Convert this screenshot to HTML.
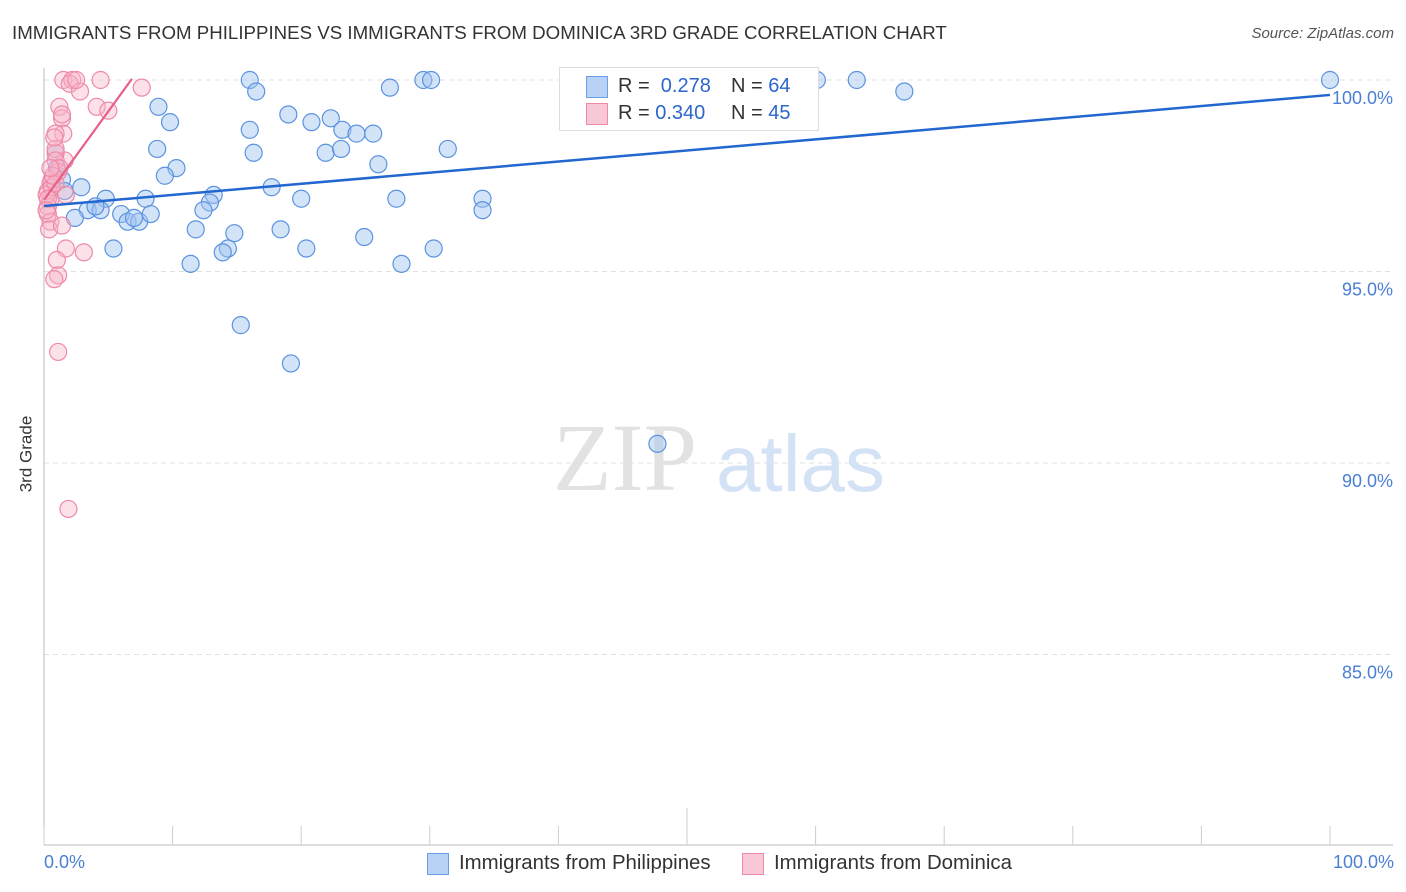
<!DOCTYPE html>
<html><head><meta charset="utf-8"><style>
body{margin:0;background:#fff;font-family:"Liberation Sans",sans-serif;}
#c{position:relative;width:1406px;height:892px;overflow:hidden;}
.t{position:absolute;white-space:nowrap;}
</style></head><body>
<div id="c">
<div class="t" style="left:12px;top:22px;font-size:18.7px;color:#333;">IMMIGRANTS FROM PHILIPPINES VS IMMIGRANTS FROM DOMINICA 3RD GRADE CORRELATION CHART</div>
<div class="t" style="right:12px;top:25px;font-size:15px;color:#555;font-style:italic;">Source: ZipAtlas.com</div>
<div class="t" style="left:-12px;top:444px;font-size:17px;color:#333;transform:rotate(-90deg);">3rd Grade</div>
<svg id="s" width="1406" height="892" style="position:absolute;left:0;top:0"></svg>
</div>
<script>
const blueX=[16.0,16.5,8.9,9.8,16.0,19.0,20.8,22.3,23.2,24.3,25.6,26.9,29.5,30.1,31.4,8.8,16.3,21.9,23.1,26.0,10.3,9.4,2.9,1.0,0.9,1.4,4.8,7.9,13.2,12.9,12.4,17.7,20.0,27.4,34.1,34.1,3.4,4.4,4.0,2.4,6.0,6.5,7.4,7.0,8.3,11.8,14.8,18.4,14.3,13.9,5.4,20.4,24.9,30.3,11.4,27.8,15.3,19.2,47.7,60.1,63.2,66.9,100.0,1.6];
const blueY=[100.0,99.7,99.3,98.9,98.7,99.1,98.9,99.0,98.7,98.6,98.6,99.8,100.0,100.0,98.2,98.2,98.1,98.1,98.2,97.8,97.7,97.5,97.2,97.7,98.1,97.4,96.9,96.9,97.0,96.8,96.6,97.2,96.9,96.9,96.9,96.6,96.6,96.6,96.7,96.4,96.5,96.3,96.3,96.4,96.5,96.1,96.0,96.1,95.6,95.5,95.6,95.6,95.9,95.6,95.2,95.2,93.6,92.6,90.5,100.0,100.0,99.7,100.0,97.1];
const pinkX=[1.5,2.2,2.0,4.4,2.8,7.6,4.1,5.0,1.2,1.4,1.5,0.9,1.6,0.9,0.9,0.9,1.1,0.6,0.5,0.3,0.5,0.3,0.3,0.5,0.4,1.4,1.7,1.0,3.1,1.1,0.8,1.1,1.9,0.2,0.6,0.9,1.2,0.7,0.8,1.4,2.5,0.3,0.5,1.7,0.2];
const pinkY=[100.0,100.0,99.9,100.0,99.7,99.8,99.3,99.2,99.3,99.0,98.6,98.6,97.9,98.1,98.2,97.9,97.6,97.4,97.3,97.1,96.9,96.7,96.5,96.3,96.1,96.2,95.6,95.3,95.5,94.9,94.8,92.9,88.8,97.0,97.2,97.3,97.7,97.5,98.5,99.1,100.0,96.9,97.7,97.0,96.6];
const blueTrend=[96.71,99.61];
const pinkTrendX=[0,6.84];
const pinkTrendY=[96.87,100.03];
const yTicks=[100,95,90,85];
const ns="http://www.w3.org/2000/svg",svg=document.getElementById('s');
const X=v=>44+v*12.86, Y=v=>80+(100-v)*38.3;
function mk(t,a){const e=document.createElementNS(ns,t);for(const k in a)e.setAttribute(k,a[k]);svg.appendChild(e);return e;}
for(const t of yTicks){
 const g=mk('line',{x1:44,x2:1393,y1:Y(t),y2:Y(t),stroke:'#e0e0e0','stroke-dasharray':'5,4'});
 
 
 const l=mk('text',{x:1393,y:Y(t)+24,'text-anchor':'end','font-size':18,fill:'#4a7fd4','font-family':'Liberation Sans'});
 l.textContent=t.toFixed(1)+'%';
 
 
}
const wm=mk('text',{x:553,y:490,'font-size':96,fill:'#e2e2e2','font-family':'Liberation Serif'});wm.textContent='ZIP';


const wm2=mk('text',{x:716,y:491,'font-size':80,fill:'#d4e2f5','font-family':'Liberation Sans'});wm2.textContent='atlas';


mk('line',{x1:44,x2:44,y1:68,y2:845,stroke:'#bbb'});
mk('line',{x1:44,x2:1393,y1:845,y2:845,stroke:'#bbb'});
for(let i=0;i<=10;i++){
 const tk=mk('line',{x1:X(i*10),x2:X(i*10),y1:i==5?808:826,y2:845,stroke:'#ccc'});
 
}
for(let i=0;i<blueX.length;i++){
 const c=mk('circle',{cx:X(blueX[i]),cy:Y(blueY[i]),r:8.5,fill:'rgba(160,195,240,0.45)',stroke:'#5b93e0','stroke-width':1.2});
 
 
}
for(let i=0;i<pinkX.length;i++){
 const c=mk('circle',{cx:X(pinkX[i]),cy:Y(pinkY[i]),r:8.5,fill:'rgba(248,180,200,0.4)',stroke:'#ee8aa8','stroke-width':1.2});
 
 
}
const bl=mk('line',{x1:X(0),y1:Y(blueTrend[0]),x2:X(100),y2:Y(blueTrend[1]),stroke:'#2266d0','stroke-width':2.5});


const pl=mk('line',{x1:X(pinkTrendX[0]),y1:Y(pinkTrendY[0]),x2:X(pinkTrendX[1]),y2:Y(pinkTrendY[1]),stroke:'#e8608a','stroke-width':2.2});


</script>
<div class="t" style="left:44px;top:852px;font-size:18px;color:#4a7fd4;">0.0%</div>
<div class="t" style="right:12px;top:852px;font-size:18px;color:#4a7fd4;">100.0%</div>
<div style="position:absolute;left:559px;top:67px;width:258px;height:62px;border:1px solid #ddd;background:#fff;font-size:20px;color:#333;">
 <div style="position:absolute;left:26px;top:8px;width:20px;height:20px;background:#b8d2f6;border:1px solid #6a9ee6;"></div>
 <div class="t" style="left:58px;top:7px;">R = <span style="color:#2a66cc">&nbsp;0.278</span></div>
 <div class="t" style="left:171px;top:7px;">N = <span style="color:#2a66cc">64</span></div>
 <div style="position:absolute;left:26px;top:35px;width:20px;height:20px;background:#f9c8d6;border:1px solid #ee8aa8;"></div>
 <div class="t" style="left:58px;top:34px;">R = <span style="color:#2a66cc">0.340</span></div>
 <div class="t" style="left:171px;top:34px;">N = <span style="color:#2a66cc">45</span></div>
</div>
<div style="position:absolute;left:427px;top:853px;font-size:20.4px;color:#333;">
 <div style="position:absolute;left:0;top:0;width:20px;height:20px;background:#b8d2f6;border:1px solid #6a9ee6;"></div>
 <div class="t" style="left:32px;top:-1px;">Immigrants from Philippines</div></div>
<div style="position:absolute;left:742px;top:853px;font-size:20.4px;color:#333;">
 <div style="position:absolute;left:0;top:0;width:20px;height:20px;background:#f9c8d6;border:1px solid #ee8aa8;"></div>
 <div class="t" style="left:32px;top:-1px;">Immigrants from Dominica</div></div>
</body></html>
